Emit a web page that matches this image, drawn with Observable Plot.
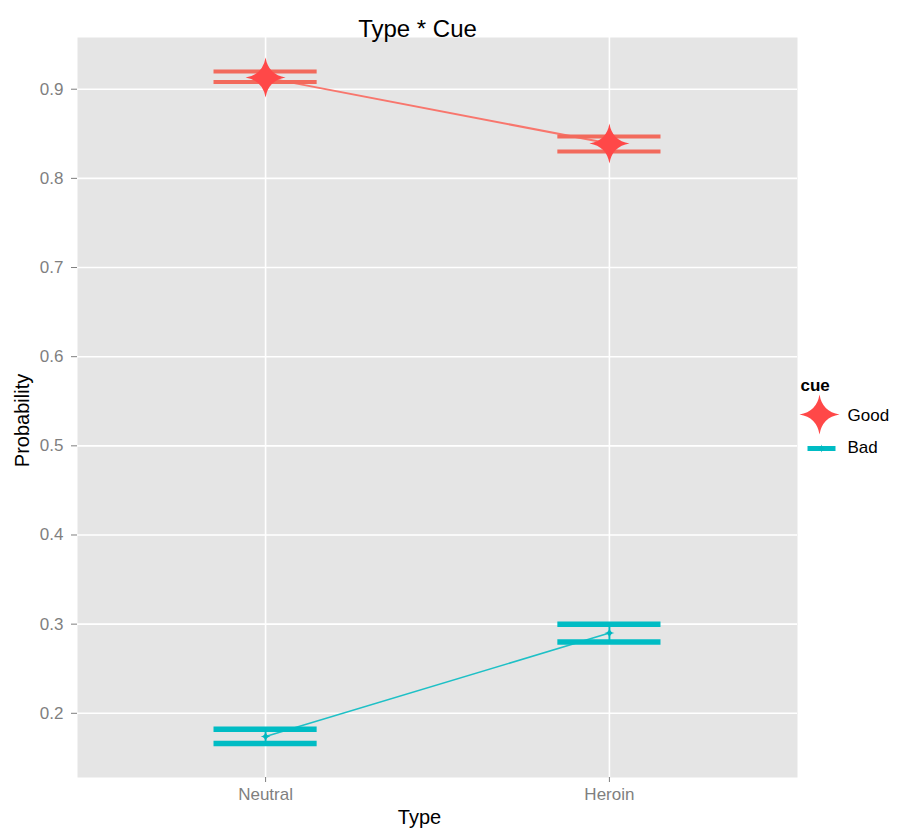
<!DOCTYPE html>
<html><head><meta charset="utf-8">
<script src="https://cdn.jsdelivr.net/npm/d3@7"></script>
<script src="https://cdn.jsdelivr.net/npm/@observablehq/plot@0.6"></script>
<style>body{margin:0;background:#fff;font-family:"Liberation Sans",Arial,sans-serif;}</style>
</head><body><div id="chart"></div>
<script>
const types = ["Neutral", "Heroin"];
const cues = ["Good", "Bad"];
const goodMean = [0.913, 0.839];
const goodLow  = [0.908, 0.830];
const goodHigh = [0.920, 0.847];
const badMean  = [0.174, 0.290];
const badLow   = [0.166, 0.280];
const badHigh  = [0.182, 0.300];
const yTicks = [0.2, 0.3, 0.4, 0.5, 0.6, 0.7, 0.8, 0.9];
const titleText = "Type * Cue";
const xLabel = "Type";
const yLabel = "Probability";
const legendTitle = "cue";

const colors = {
  Good: {line: "#F8766D", bar: "#F26A5C", point: "#FF4848"},
  Bad: {line: "#1EC0C6", bar: "#00BCC4", point: "#00B8C0"}
};
const sizes = {Good: {bar: 4, line: 2, r: 20}, Bad: {bar: 5.5, line: 1.6, r: 5}};

const rows = [];
types.forEach((t, i) => {
  rows.push({cue: "Good", type: t, i, mean: goodMean[i], low: goodLow[i], high: goodHigh[i]});
  rows.push({cue: "Bad", type: t, i, mean: badMean[i], low: badLow[i], high: badHigh[i]});
});

const star = {
  draw(ctx, size) {
    const R = Math.sqrt(size / Math.PI), k = R * 0.14;
    ctx.moveTo(0, -R);
    ctx.quadraticCurveTo(k, -k, R, 0);
    ctx.quadraticCurveTo(k, k, 0, R);
    ctx.quadraticCurveTo(-k, k, -R, 0);
    ctx.quadraticCurveTo(-k, -k, 0, -R);
    ctx.closePath();
  }
};
const barSym = {
  draw(ctx, size) {
    const R = Math.sqrt(size / Math.PI);
    ctx.rect(-R, -2.5, 2 * R, 5);
  }
};

const halfWidth = 0.15;
const marks = [
  Plot.frame({fill: "#E5E5E5", stroke: "none"}),
  Plot.gridY(yTicks, {stroke: "white", strokeOpacity: 1, strokeWidth: 1.6}),
  Plot.gridX([0, 1], {stroke: "white", strokeOpacity: 1, strokeWidth: 1.6}),
  Plot.axisY(yTicks, {tickSize: 6, tickPadding: 8, tickFormat: d3.format(".1f"), fontSize: 17, color: "#7F7F7F", label: null}),
  Plot.axisX([0, 1], {tickSize: 5, tickPadding: 5, tickFormat: i => types[i], fontSize: 17, color: "#7F7F7F", label: null})
];
for (const c of cues) {
  const d = rows.filter(r => r.cue === c);
  marks.push(
    Plot.line(d, {x: "i", y: "mean", stroke: colors[c].line, strokeWidth: sizes[c].line}),
    Plot.ruleY(d, {y: "low", x1: r => r.i - halfWidth, x2: r => r.i + halfWidth, stroke: colors[c].bar, strokeWidth: sizes[c].bar}),
    Plot.ruleY(d, {y: "high", x1: r => r.i - halfWidth, x2: r => r.i + halfWidth, stroke: colors[c].bar, strokeWidth: sizes[c].bar}),
    Plot.ruleX(d, {x: "i", y1: "low", y2: "high", stroke: colors[c].bar, strokeWidth: 2}),
    Plot.dot(d, {x: "i", y: "mean", symbol: star, r: sizes[c].r, fill: colors[c].point, stroke: "none"})
  );
}
// titles
marks.push(
  Plot.text([titleText], {frameAnchor: "top", textAnchor: "middle", dx: -20, dy: -18, fontSize: 24, fill: "black"}),
  Plot.text([xLabel], {frameAnchor: "bottom", textAnchor: "middle", dx: -18, dy: 46, fontSize: 20, fill: "black"}),
  Plot.text([yLabel], {frameAnchor: "left", textAnchor: "middle", dx: -55, dy: 13, rotate: -90, fontSize: 20, fill: "black"})
);
// legend
marks.push(
  Plot.text([legendTitle], {frameAnchor: "right", dx: 3, dy: -22, textAnchor: "start", fontSize: 17, fontWeight: "bold", fill: "black"}),
  Plot.dot([cues[0]], {frameAnchor: "right", dx: 22, dy: 7, symbol: star, r: sizes.Good.r, fill: colors.Good.point, stroke: "none"}),
  Plot.text([cues[0]], {frameAnchor: "right", dx: 50, dy: 8, textAnchor: "start", fontSize: 17, fill: "black"}),
  Plot.dot([cues[1]], {frameAnchor: "right", dx: 24, dy: 41, symbol: barSym, r: 14, fill: colors.Bad.bar, stroke: "none"}),
  Plot.dot([cues[1]], {frameAnchor: "right", dx: 24, dy: 41, symbol: star, r: 4, fill: colors.Bad.point, stroke: "none"}),
  Plot.text([cues[1]], {frameAnchor: "right", dx: 50, dy: 40, textAnchor: "start", fontSize: 17, fill: "black"})
);

const chart = Plot.plot({
  width: 899,
  height: 836,
  marginLeft: 77,
  marginRight: 102,
  marginTop: 37,
  marginBottom: 59,
  style: {fontFamily: "'Liberation Sans', Arial, sans-serif", background: "white", overflow: "visible"},
  x: {type: "linear", domain: [-0.547, 1.547], axis: null},
  y: {domain: [0.128, 0.958], axis: null},
  marks
});
document.getElementById("chart").appendChild(chart);
</script>
</body></html>
